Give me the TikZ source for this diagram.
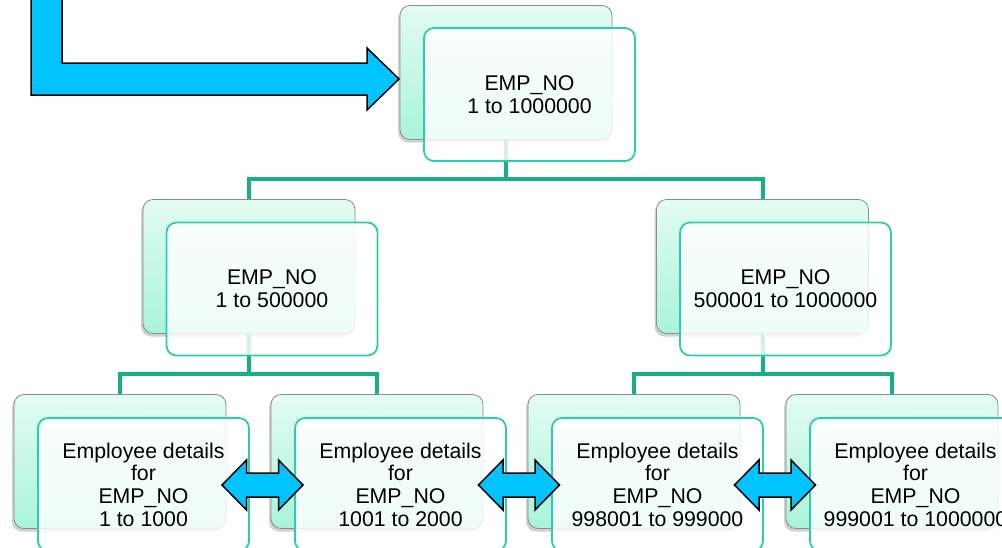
\documentclass[tikz,border=0pt]{standalone}
\usepackage{fontspec}
\setmainfont{Liberation Sans}
\usetikzlibrary{shadows}
\definecolor{mintTop}{HTML}{E3FCF3}
\definecolor{mintBot}{HTML}{A8F4D8}
\definecolor{teal1}{HTML}{2ACFA8}
\definecolor{connc}{HTML}{14B088}
\definecolor{arrowblue}{HTML}{00C3FF}
\newcommand\dbarrow[1]{\draw[bluearrow] (#1) ++(-40.5,0) -- ++(24.5,-25) -- ++(0,13) -- ++(32,0) -- ++(0,-13) -- ++(24.5,25) -- ++(-24.5,25) -- ++(0,-13) -- ++(-32,0) -- ++(0,13) -- cycle;}
\begin{document}
\begin{tikzpicture}[x=1pt,y=-1pt,
 backbox/.style={draw=gray!90, line width=0.8pt, rounded corners=10pt, minimum width=212pt, minimum height=134pt, top color=mintTop, bottom color=mintBot, drop shadow={shadow xshift=-2pt,shadow yshift=-3pt,opacity=0.3,fill=black!60}},
 frontbox/.style={draw=teal1, line width=1.8pt, rounded corners=10pt, minimum width=211pt, minimum height=133pt, fill=white, fill opacity=0.82, text opacity=1, align=center, font=\fontsize{21.3}{22.7}\selectfont, inner sep=0pt},
 conn/.style={draw=connc, line width=4pt},
 bluearrow/.style={fill=arrowblue, draw=black, line width=1.5pt, line join=miter}]
\useasboundingbox (0,0) rectangle (1002,547);
% back boxes
\node[backbox] (T) at (506,72.5) {};
\node[backbox] (ML) at (249,266.5) {};
\node[backbox] (MR) at (762.5,266.5) {};
\node[backbox] (B1) at (120,461.5) {};
\node[backbox] (B2) at (377,461.5) {};
\node[backbox] (B3) at (634,461.5) {};
\node[backbox] (B4) at (892,461.5) {};
% connectors
\draw[conn] (ML.north) -- ++(0,-20) -| (T.south);
\draw[conn] (MR.north) -- ++(0,-20) -| (T.south);
\draw[conn] (B1.north) -- ++(0,-20) -| (ML.south);
\draw[conn] (B2.north) -- ++(0,-20) -| (ML.south);
\draw[conn] (B3.north) -- ++(0,-20) -| (MR.south);
\draw[conn] (B4.north) -- ++(0,-20) -| (MR.south);
% front boxes
\node[frontbox] (Tf) at (529.5,94.5) {EMP\_NO\\1 to 1000000};
\node[frontbox] (MLf) at (272,289) {EMP\_NO\\1 to 500000};
\node[frontbox] (MRf) at (785.5,289) {EMP\_NO\\500001 to 1000000};
\node[frontbox] (B1f) at (143.5,484.5) {Employee details\\for\\EMP\_NO\\1 to 1000};
\node[frontbox] (B2f) at (400.5,484.5) {Employee details\\for\\EMP\_NO\\1001 to 2000};
\node[frontbox] (B3f) at (657.5,484.5) {Employee details\\for\\EMP\_NO\\998001 to 999000};
\node[frontbox] (B4f) at (915.5,484.5) {Employee details\\for\\EMP\_NO\\999001 to 1000000};
% double arrows
\coordinate (a1) at (262.5,485);
\coordinate (a2) at (519,485);
\coordinate (a3) at (775,485);
\dbarrow{a1}
\dbarrow{a2}
\dbarrow{a3}
% L-shaped arrow into top box
\draw[bluearrow] (31,-5) -- (31,95) -- (367,95) -- (367,110) -- (399,79) -- (367,48) -- (367,63) -- (62,63) -- (62,-5) -- cycle;
\end{tikzpicture}
\end{document}
